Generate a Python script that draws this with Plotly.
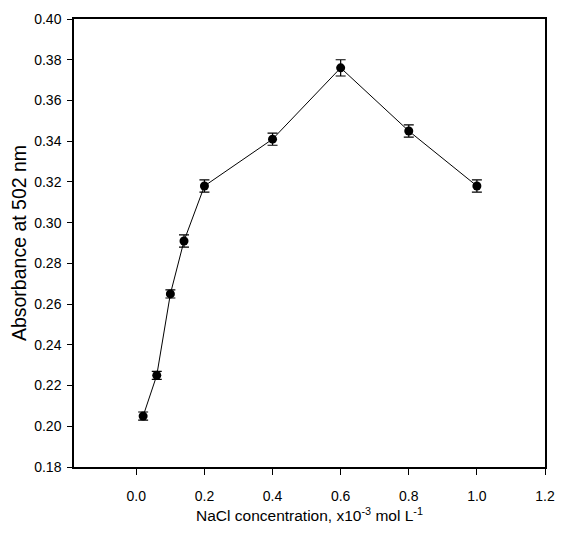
import plotly.graph_objects as go

conc = [0.02, 0.06, 0.10, 0.14, 0.20, 0.40, 0.60, 0.80, 1.00]
absorbance = [0.205, 0.225, 0.265, 0.291, 0.318, 0.341, 0.376, 0.345, 0.318]
err = [0.002, 0.002, 0.002, 0.003, 0.003, 0.003, 0.004, 0.003, 0.003]

fig = go.Figure()
fig.add_trace(go.Scatter(
    x=conc, y=absorbance, mode="lines+markers",
    line=dict(color="black", width=1),
    marker=dict(color="black", size=9, symbol="circle"),
    error_y=dict(type="data", array=err, visible=True, color="black", thickness=1.2, width=5),
    showlegend=False,
))

font_ticks = dict(family="Liberation Sans, Arial", size=14, color="black")
fig.update_layout(
    width=547, height=532,
    margin=dict(l=66, r=10, t=11, b=73),
    plot_bgcolor="white", paper_bgcolor="white",
    xaxis=dict(
        range=[-0.183, 1.2], tick0=0, dtick=0.2, tickformat=".1f", automargin=False,
        showgrid=False, zeroline=False, showline=True, linecolor="black", linewidth=1.5,
        mirror=True, ticks="outside", ticklen=6, tickcolor="black", tickfont=font_ticks,
        ticklabelstandoff=9, ticklabeloverflow="allow",
        title=dict(text="NaCl concentration, x10<sup>-3</sup> mol L<sup>-1</sup>",
                   font=dict(family="Liberation Sans, Arial", size=15.5, color="black"),
                   standoff=8),
    ),
    yaxis=dict(
        range=[0.18, 0.40], tick0=0.18, dtick=0.02, tickformat=".2f", automargin=False,
        showgrid=False, zeroline=False, showline=True, linecolor="black", linewidth=1.5,
        mirror=True, ticks="outside", ticklen=5, tickcolor="black", tickfont=font_ticks,
        ticklabelstandoff=3, ticklabeloverflow="allow",
        title=dict(text="Absorbance at 502 nm",
                   font=dict(family="Liberation Sans, Arial", size=19.5, color="black"),
                   standoff=8),
    ),
)
fig.write_html("out.html")
